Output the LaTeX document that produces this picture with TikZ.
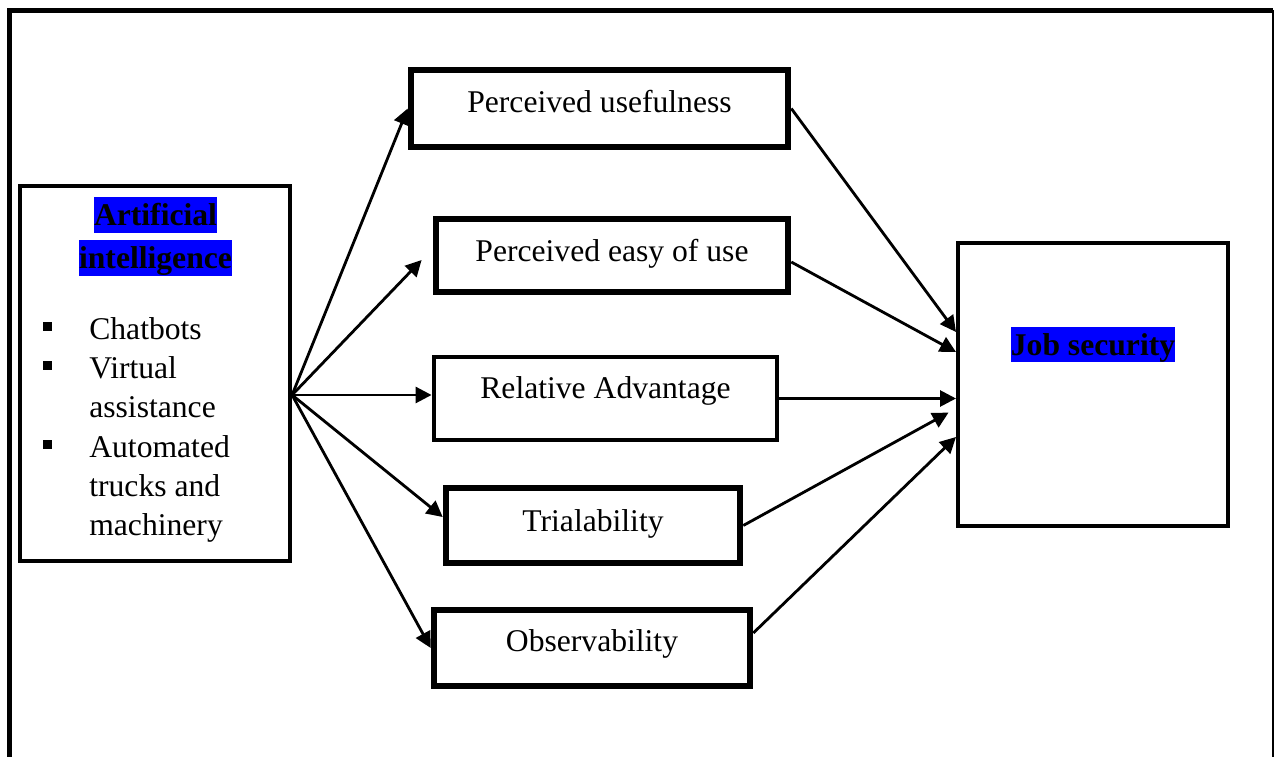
\documentclass[tikz,border=0pt]{standalone}
\usepackage{fontspec}
\setmainfont{Liberation Serif}
\usetikzlibrary{arrows.meta}
\definecolor{hlblue}{RGB}{0,0,255}
\newcommand{\hlb}[1]{{\setlength{\fboxsep}{0pt}\colorbox{hlblue}{\rule[-0.22em]{0pt}{1.13em}\textbf{#1}}}}
\newcommand{\sq}{\makebox[0.92cm][l]{\rule[0.16cm]{0.18cm}{0.18cm}}}

\begin{document}
\begin{tikzpicture}[x=0.02cm,y=-0.02cm,every node/.style={font=\fontsize{18}{22.4}\selectfont}]
			\tikzstyle{factor}=[draw,line width=3.8pt,inner sep=0pt,text height=0.46cm,text depth=0.3cm]
			\tikzstyle{link}=[line width=1.6pt,-{Triangle[length=0.32cm,width=0.32cm]}]
			\useasboundingbox (0,0) rectangle (1279,757);
			% outer frame
			\draw[line width=2.5pt] (9.5,757) -- (9.5,10.5) -- (1273,10.5);
			\draw[line width=1pt] (1273,10.5) -- (1273,757);
			
			% artificial intelligence
			\node[draw,line width=2.4pt,inner sep=0pt,minimum width=5.4cm,minimum height=7.5cm](ai) at (155,373.5){};
			\node[inner sep=0pt,anchor=base,font=\fontsize{18}{24.4}\selectfont](aihead) at (155.5,226){%
				\begin{tabular}[t]{@{}c@{}}\hlb{Artificial}\\\hlb{intelligence}\end{tabular}};
			\node[inner sep=0pt,anchor=base west](ailist) at (43,339){%
				\begin{tabular}[t]{@{}l@{}l@{}}
					\sq&Chatbots\\
					\sq&Virtual\\
					&assistance\\
					\sq&Automated\\
					&trucks and\\
					&machinery
			\end{tabular}};
			
			% factors
			\node[factor,minimum width=7.54cm,minimum height=1.54cm](pu) at (599.5,108.5){Perceived usefulness};
			\node[factor,minimum width=7.04cm,minimum height=1.46cm,text depth=0.22cm](pe) at (612,255.5){Perceived easy of use};
			\node[factor,line width=2.8pt,minimum width=6.86cm,minimum height=1.66cm,text depth=0.46cm](ra) at (605.5,398.5){Relative Advantage};
			\node[factor,minimum width=5.88cm,minimum height=1.5cm,text depth=0.22cm](tr) at (593,525.5){Trialability};
			\node[factor,minimum width=6.32cm,minimum height=1.52cm,text depth=0.32cm](ob) at (592,648){Observability};
			
			% job security
			\node[factor,line width=2.3pt,minimum width=5.4cm,minimum height=5.66cm,text height=0.64cm,text depth=1.8cm](js) at (1093,384.5){\hlb{Job security}};
			
			\coordinate (hub) at ([yshift=-0.43cm]ai.east);
			\path[link] (hub) edge (pu.west)
			(hub) edge[shorten >=0.32cm] ([yshift=0.14cm]pe.west)
			(hub) edge (hub -| ra.west)
			(hub) edge ([yshift=0.17cm]tr.west)
			(hub) edge (ob.west);
			
			\path[link] (pu.east) edge ([yshift=1.05cm]js.west)
			([yshift=-0.13cm]pe.east) edge ([yshift=0.65cm]js.west)
			(ra.east) edge (ra.east -| js.west)
			(tr.east) edge[shorten >=0.17cm] ([yshift=-0.48cm]js.west)
			([yshift=0.3cm]ob.east) edge ([yshift=-1.05cm]js.west);
\end{tikzpicture}
\end{document}
